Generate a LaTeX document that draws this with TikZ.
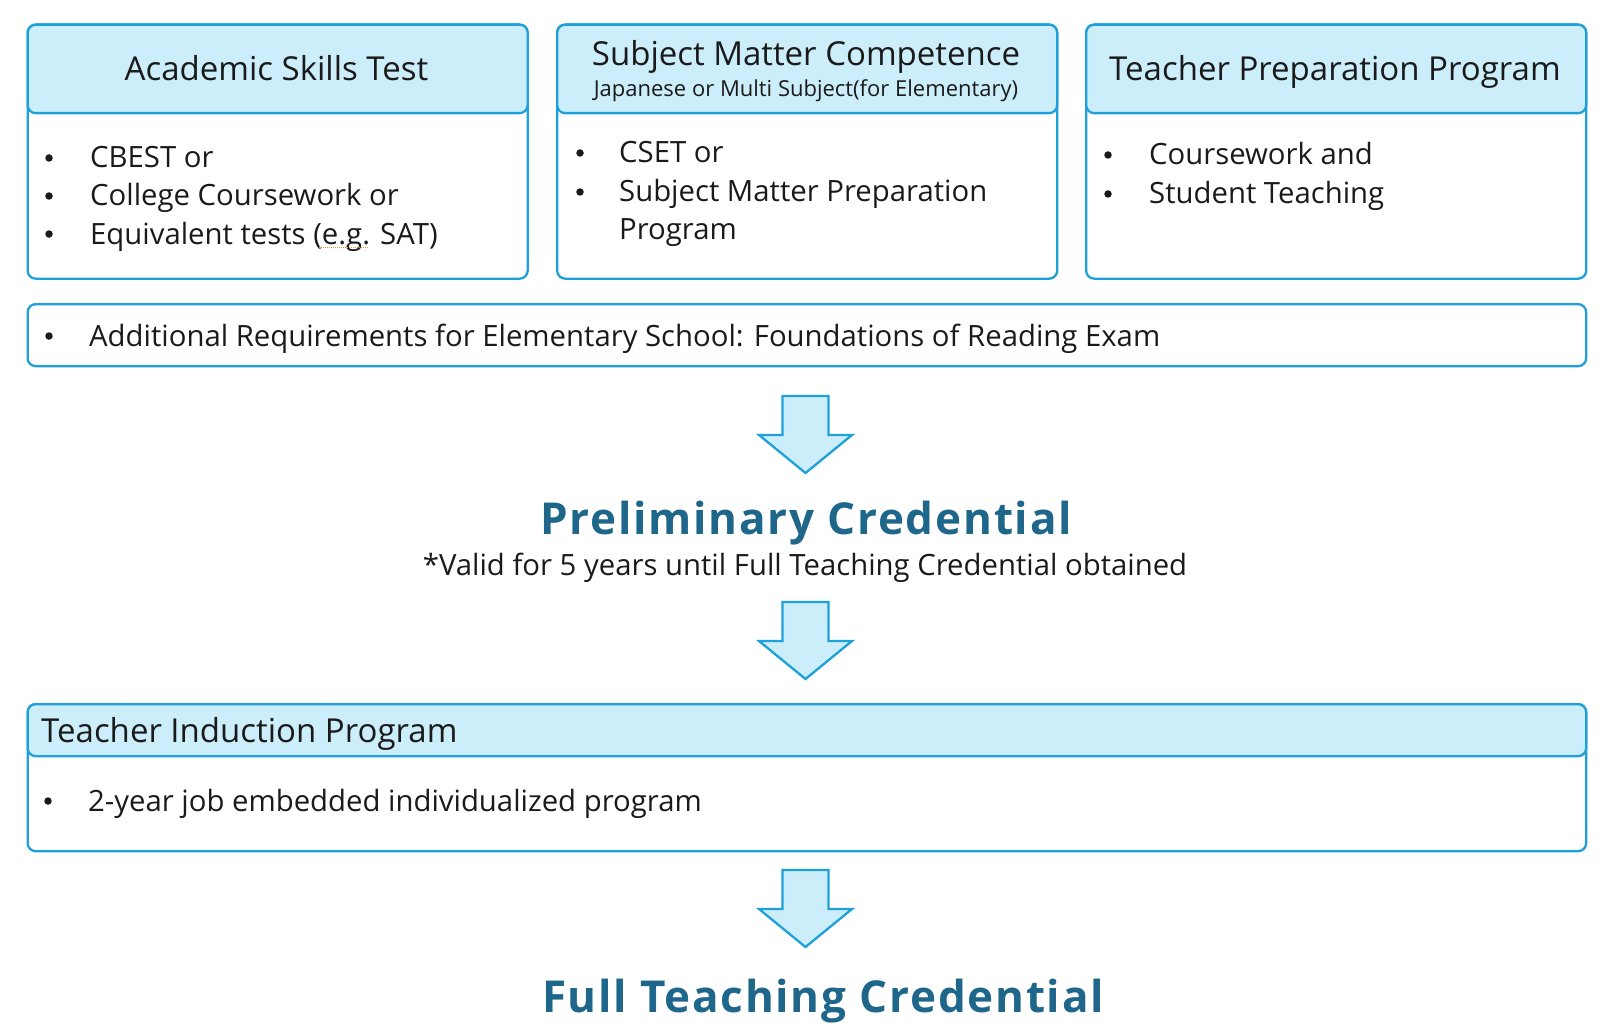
\documentclass[tikz,border=0pt]{standalone}
\usepackage{fontspec}
\setmainfont{Open Sans}
\newfontfamily\titlefont[LetterSpace=4]{Open Sans}
\definecolor{bord}{RGB}{30,160,218}
\definecolor{headfill}{RGB}{204,238,251}
\definecolor{titleblue}{RGB}{30,102,138}
\definecolor{txt}{RGB}{26,26,26}
\definecolor{squig}{RGB}{210,160,70}
\tikzset{
  box/.style={draw=bord, line width=2.3pt, rounded corners=8pt, inner sep=0pt, anchor=north west},
  headbox/.style={box, fill=headfill},
  htitle/.style={font=\fontsize{33}{40}\selectfont, text=txt, inner sep=0pt, anchor=base},
  hsub/.style={font=\fontsize{22}{26}\selectfont, text=txt, inner sep=0pt, anchor=base},
  item/.style={font=\fontsize{29.3}{35}\selectfont, text=txt, inner sep=0pt, anchor=base west},
  dotb/.style={circle, fill=txt, inner sep=0pt, minimum size=7.5pt},
  bigtitle/.style={font=\titlefont\bfseries\fontsize{44}{52}\selectfont, text=titleblue, inner sep=0pt, anchor=base},
  downarrow/.style={draw=bord, fill=headfill, line width=2.3pt, line join=miter}
}
\begin{document}
\begin{tikzpicture}[x=1pt,y=-1pt]
\useasboundingbox (0,0) rectangle (1600,1035);

% ---- Box 1
\node[box, minimum width=500pt, minimum height=254pt] (b1) at (26.5,23.5) {};
\node[headbox, minimum width=500pt, minimum height=88.5pt] (h1) at (26.5,23.5) {};
\node[htitle] (h1t) at (276.5,81) {Academic Skills Test};
\node[dotb] (b1d1) at (49,158) {};
\node[item] (b1i1) at (90,168) {CBEST or};
\node[dotb] (b1d2) at (49,196) {};
\node[item] (b1i2) at (90,206) {College Coursework or};
\node[dotb] (b1d3) at (49,234) {};
\node[item] (b1i3) at (90,244) {Equivalent tests (e.g. SAT)};
\coordinate (sq1) at (319,247);
\coordinate (sq2) at (369,247);
\draw[squig, line width=1pt, densely dotted] (sq1) -- (sq2);

% ---- Box 2
\node[box, minimum width=500pt, minimum height=254pt] (b2) at (556,23.5) {};
\node[headbox, minimum width=500pt, minimum height=88.5pt] (h2) at (556,23.5) {};
\node[htitle] (h2t) at (806,66) {Subject Matter Competence};
\node[hsub] (h2s) at (806,97) {Japanese or Multi Subject(for Elementary)};
\node[dotb] (b2d1) at (580,153) {};
\node[item] (b2i1) at (619,163) {CSET or};
\node[dotb] (b2d2) at (580,192) {};
\node[item] (b2i2) at (619,202) {Subject Matter Preparation};
\node[item] (b2i3) at (619,240) {Program};

% ---- Box 3
\node[box, minimum width=500pt, minimum height=254pt] (b3) at (1085,23.5) {};
\node[headbox, minimum width=500pt, minimum height=88.5pt] (h3) at (1085,23.5) {};
\node[htitle] (h3t) at (1335,81) {Teacher Preparation Program};
\node[dotb] (b3d1) at (1108,155) {};
\node[item] (b3i1) at (1149,165) {Coursework and};
\node[dotb] (b3d2) at (1108,194) {};
\node[item] (b3i2) at (1149,204) {Student Teaching};

% ---- Additional requirements
\node[box, minimum width=1558.5pt, minimum height=62pt] (ab) at (26.5,303) {};
\node[dotb] (abd) at (49,336) {};
\node[item] (abi) at (89,346) {Additional Requirements for Elementary School: Foundations of Reading Exam};

% ---- Arrow 1
\coordinate (a1) at (805.5,396);
\draw[downarrow] (a1) ++(-23,0) -- ++(46,0) -- ++(0,39) -- ++(23.5,0) -- ++(-46.5,38) -- ++(-46.5,-38) -- ++(23.5,0) -- cycle;

% ---- Preliminary credential
\node[bigtitle] (pc) at (806,534) {Preliminary Credential};
\node[item, anchor=base] (pcs) at (805,575) {*Valid for 5 years until Full Teaching Credential obtained};

% ---- Arrow 2
\coordinate (a2) at (805.5,602);
\draw[downarrow] (a2) ++(-23,0) -- ++(46,0) -- ++(0,39) -- ++(23.5,0) -- ++(-46.5,38) -- ++(-46.5,-38) -- ++(23.5,0) -- cycle;

% ---- Teacher induction
\node[box, minimum width=1558.5pt, minimum height=147pt] (ib) at (26.5,703) {};
\node[headbox, minimum width=1558.5pt, minimum height=52pt] (ih) at (26.5,703) {};
\node[htitle, anchor=base west] (iht) at (41,742) {Teacher Induction Program};
\node[dotb] (ibd) at (48,801) {};
\node[item] (ibi) at (88,811) {2-year job embedded individualized program};

% ---- Arrow 3
\coordinate (a3) at (805.5,870);
\draw[downarrow] (a3) ++(-23,0) -- ++(46,0) -- ++(0,39) -- ++(23.5,0) -- ++(-46.5,38) -- ++(-46.5,-38) -- ++(23.5,0) -- cycle;

% ---- Full credential
\node[bigtitle] (fc) at (823,1012) {Full Teaching Credential};
\end{tikzpicture}
\end{document}
